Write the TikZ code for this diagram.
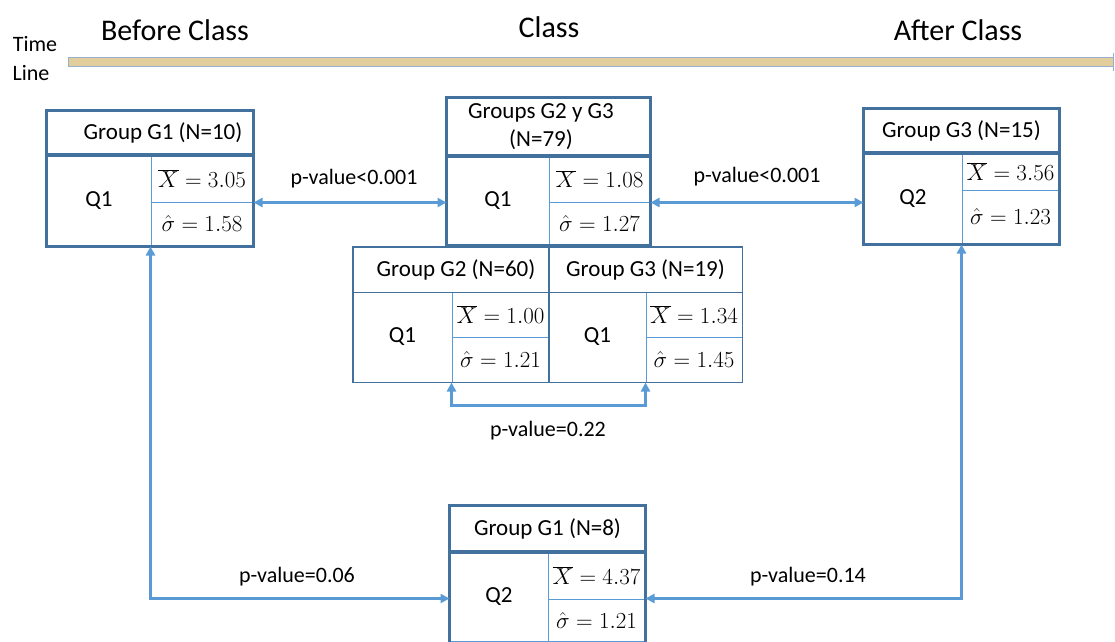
\RequirePackage{fix-cm}
\documentclass[tikz,border=0pt]{standalone}
\usepackage[no-math]{fontspec}
\setmainfont{Carlito}
\usetikzlibrary{arrows.meta}
\definecolor{frame_blue}{RGB}{65,113,156}
\definecolor{line_blue}{RGB}{91,155,213}
\definecolor{bar_tan}{RGB}{226,206,156}
\definecolor{bar_edge}{RGB}{150,175,205}

\begin{document}
\begin{tikzpicture}[x=1pt,y=-1pt,>={Triangle[length=9pt,width=9pt]}]
    \tikzstyle{cell}=[draw=line_blue, line width=1pt, rectangle, inner sep=0pt, font=\fontsize{23}{28}\selectfont]
    \tikzstyle{sub}=[style=cell, draw=frame_blue, line width=0.8pt]
    \tikzstyle{frame}=[draw=frame_blue, line width=3pt]
    \tikzstyle{link}=[draw=line_blue, line width=2.5pt, <->]
    \tikzstyle{pval}=[inner sep=0pt, font=\fontsize{22}{26}\selectfont]
    \tikzstyle{phase}=[inner sep=0pt, font=\fontsize{30}{34}\selectfont]

    \useasboundingbox (0,0) rectangle (1115,641);
    \clip (0,0) rectangle (1115,641);

    % time line
    \node[pval] (time) at (35,44) {Time};
    \node[pval] (line) at (31,73) {Line};
    \node[draw=bar_edge, fill=bar_tan, line width=1pt, minimum width=1045pt, minimum height=9pt, inner sep=0pt] (tl) at (590.5,61.5) {};
    \draw[bar_edge, line width=1pt] ([yshift=9pt]tl.east) -- ([yshift=-9pt]tl.east);
    \node[phase] (before) at (175,30) {Before Class};
    \node[phase] (class)  at (549,27) {Class};
    \node[phase] (after)  at (958,30) {After Class};

    % before class, G1
    \node[cell, minimum width=206pt, minimum height=44pt] (hdrA) at (150,133) {};
    \node[cell, draw=none] (hdrAtxt) at (163,133) {Group G1 (N=10)};
    \node[cell, minimum width=104pt, minimum height=91pt] (qA) at (99,200.5)  {Q1};
    \node[cell, minimum width=102pt, minimum height=47pt] (mA) at (202,178.5) {$\overline{X}=3.05$};
    \node[cell, minimum width=102pt, minimum height=44pt] (sA) at (202,224)   {$\hat{\sigma}=1.58$};
    \draw[frame] (hdrA.north west) rectangle (hdrA.south east);
    \draw[frame] (qA.north west) rectangle (sA.south east);

    % class, G2 y G3
    \node[cell, minimum width=203pt, minimum height=58pt] (hdrB) at (548.5,127) {};
    \node[cell, draw=none, align=center] (hdrBtxt) at (541,127) {Groups G2 y G3\\(N=79)};
    \node[cell, minimum width=102pt, minimum height=89pt] (qB) at (498,200.5)   {Q1};
    \node[cell, minimum width=101pt, minimum height=46pt] (mB) at (599.5,179)   {$\overline{X}=1.08$};
    \node[cell, minimum width=101pt, minimum height=43pt] (sB) at (599.5,223.5) {$\hat{\sigma}=1.27$};
    \draw[frame] (hdrB.north west) rectangle (hdrB.south east);
    \draw[frame] (qB.north west) rectangle (sB.south east);

    % class, split
    \node[sub, minimum width=196pt, minimum height=45pt] (hdrG2) at (451,269.5)   {\hspace{10pt}Group G2 (N=60)};
    \node[sub, minimum width=193pt, minimum height=45pt] (hdrG3) at (645.5,269.5) {Group G3 (N=19)};
    \node[sub, minimum width=99pt, minimum height=90pt] (qG2) at (402.5,337)   {Q1};
    \node[cell, minimum width=97pt, minimum height=45pt] (mG2) at (500.5,314.5) {$\overline{X}=1.00$};
    \node[cell, minimum width=97pt, minimum height=45pt] (sG2) at (500.5,359.5) {$\hat{\sigma}=1.21$};
    \node[sub, minimum width=97pt, minimum height=90pt] (qG3) at (597.5,337)   {Q1};
    \node[cell, minimum width=96pt, minimum height=45pt] (mG3) at (694,314.5)   {$\overline{X}=1.34$};
    \node[cell, minimum width=96pt, minimum height=45pt] (sG3) at (694,359.5)   {$\hat{\sigma}=1.45$};
    \draw[frame_blue, line width=0.8pt] (hdrG2.north west) rectangle (sG3.south east);
    \draw[frame_blue, line width=0.8pt] (hdrG2.south west) -- (hdrG3.south east);
    \draw[frame_blue, line width=1.5pt] (hdrG3.north west) -- (qG3.south west);

    % after class, G3
    \node[cell, minimum width=195pt, minimum height=44pt] (hdrC) at (961.5,131) {Group G3 (N=15)};
    \node[cell, minimum width=98pt, minimum height=91pt] (qC) at (913,198.5)  {Q2};
    \node[cell, minimum width=97pt, minimum height=37pt] (mC) at (1010.5,171.5) {$\overline{X}=3.56$};
    \node[cell, minimum width=97pt, minimum height=54pt] (sC) at (1010.5,217)   {$\hat{\sigma}=1.23$};
    \draw[frame] (hdrC.north west) rectangle (hdrC.south east);
    \draw[frame] (qC.north west) rectangle (sC.south east);

    % after class, G1
    \node[cell, minimum width=195pt, minimum height=46pt] (hdrE) at (547.5,529) {Group G1 (N=8)};
    \node[cell, minimum width=98pt, minimum height=89pt] (qE) at (499,596.5)  {Q2};
    \node[cell, minimum width=97pt, minimum height=47pt] (mE) at (596.5,575.5) {$\overline{X}=4.37$};
    \node[cell, minimum width=97pt, minimum height=42pt] (sE) at (596.5,620)   {$\hat{\sigma}=1.21$};
    \draw[frame] (hdrE.north west) rectangle (hdrE.south east);
    \draw[frame] (qE.north west) rectangle ([yshift=-12pt]sE.south east);

    % comparisons
    \path
     (mA.south east) edge[link] (mA.south east -| qB.west)
     (mB.south east) edge[link] (mB.south east -| qC.west)
     ;
    \draw[link] (sG2.south west) -- ++(0,23) -| (sG3.south west);
    \draw[link] (sA.south west) |- (sE.north -| qE.west);
    \draw[link] (sC.south west) |- (sE.north east);

    \node[pval] (pAB) at (354,179) {p-value<0.001};
    \node[pval] (pBC) at (757,177) {p-value<0.001};
    \node[pval] (p22) at (548,431) {p-value=0.22};
    \node[pval] (p06) at (297,577) {p-value=0.06};
    \node[pval] (p14) at (808,577) {p-value=0.14};
\end{tikzpicture}
\end{document}
